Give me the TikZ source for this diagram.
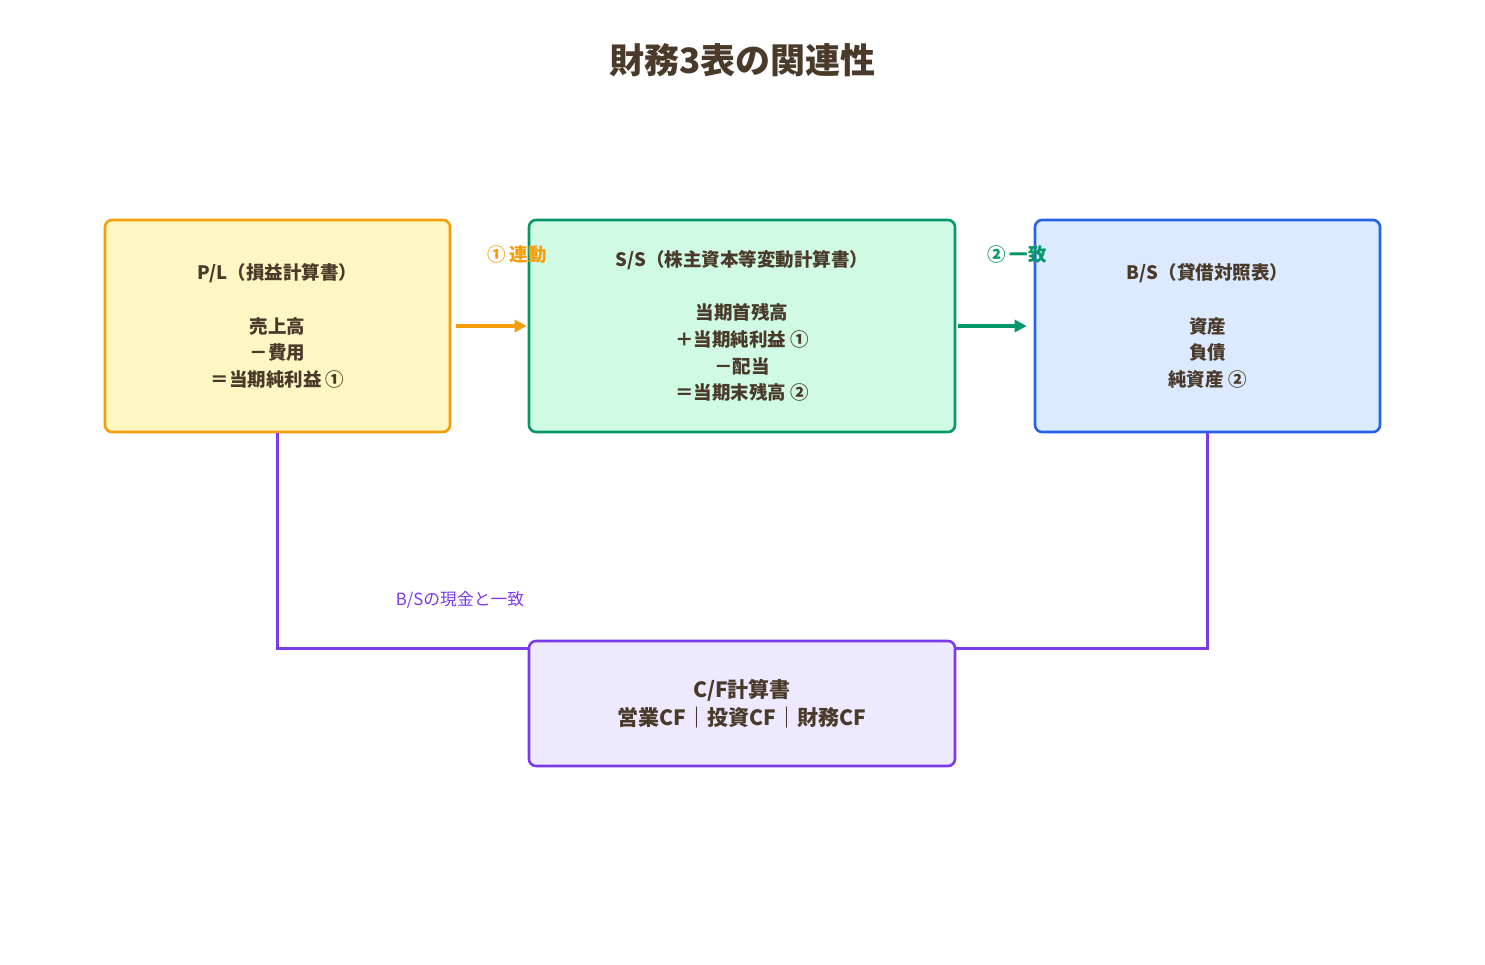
\documentclass[tikz,border=0pt]{standalone}
\usepackage{fontspec}
\setmainfont{Noto Sans CJK JP}
\usetikzlibrary{arrows.meta,calc}
\definecolor{txt}{HTML}{4A3A2A}
\definecolor{orng}{HTML}{F59E0B}
\definecolor{ylw}{HTML}{FEF7C3}
\definecolor{grn}{HTML}{059669}
\definecolor{mint}{HTML}{D1FAE5}
\definecolor{blu}{HTML}{2563EB}
\definecolor{lblu}{HTML}{DBEAFE}
\definecolor{purp}{HTML}{7C3AED}
\definecolor{lpurp}{HTML}{EDE9FE}
\tikzset{
  box/.style={draw, line width=2.6pt, rounded corners=7pt, align=center, text=txt,
    font=\bfseries\fontsize{18.5}{26.6}\selectfont, inner sep=0pt},
  flow/.style={line width=3.4pt, -{Triangle[length=12pt,width=12pt]}},
  link/.style={draw=purp, line width=2.8pt},
  tag/.style={font=\bfseries\fontsize{18.5}{20}\selectfont, inner sep=0pt},
}
\begin{document}
\begin{tikzpicture}[x=1pt,y=-1pt]
\useasboundingbox (0,0) rectangle (1485,964);
\node[font=\bfseries\fontsize{35}{40}\selectfont, text=txt] (title) at (742.5,60) {財務3表の関連性};

\node[box, draw=orng, fill=ylw, minimum width=345pt, minimum height=212pt] (pl) at (277.5,326)
  {P/L（損益計算書）\\\mbox{}\\売上高\\－費用\\＝当期純利益 ①};
\node[box, draw=grn, fill=mint, minimum width=426pt, minimum height=212pt] (ss) at (742,326)
  {S/S（株主資本等変動計算書）\\\mbox{}\\当期首残高\\＋当期純利益 ①\\－配当\\＝当期末残高 ②};
\node[box, draw=blu, fill=lblu, minimum width=345pt, minimum height=212pt] (bs) at (1207.5,326)
  {B/S（貸借対照表）\\\mbox{}\\資産\\負債\\純資産 ②};
\node[box, draw=purp, fill=lpurp, minimum width=426pt, minimum height=125pt,
  font=\bfseries\fontsize{21}{28}\selectfont] (cf) at (742,703.5)
  {C/F計算書\\営業CF｜投資CF｜財務CF};

\draw[flow, draw=orng, fill=orng, shorten <=5pt, shorten >=1pt] (pl.east) -- (ss.west);
\draw[flow, draw=grn, fill=grn, shorten <=2pt, shorten >=7pt] (ss.east) -- (bs.west);
\node[tag, text=orng] (l1) at (517,255) {① 連動};
\node[tag, text=grn] (l2) at (1017,254) {② 一致};

\draw[link] (pl.south) |- ([yshift=-9pt]cf.north west);
\draw[link] (bs.south) |- ([yshift=-9pt]cf.north east);
\node[text=purp, font=\fontsize{16.8}{18}\selectfont, inner sep=0pt] (l3) at (460,600) {B/Sの現金と一致};
\end{tikzpicture}
\end{document}
